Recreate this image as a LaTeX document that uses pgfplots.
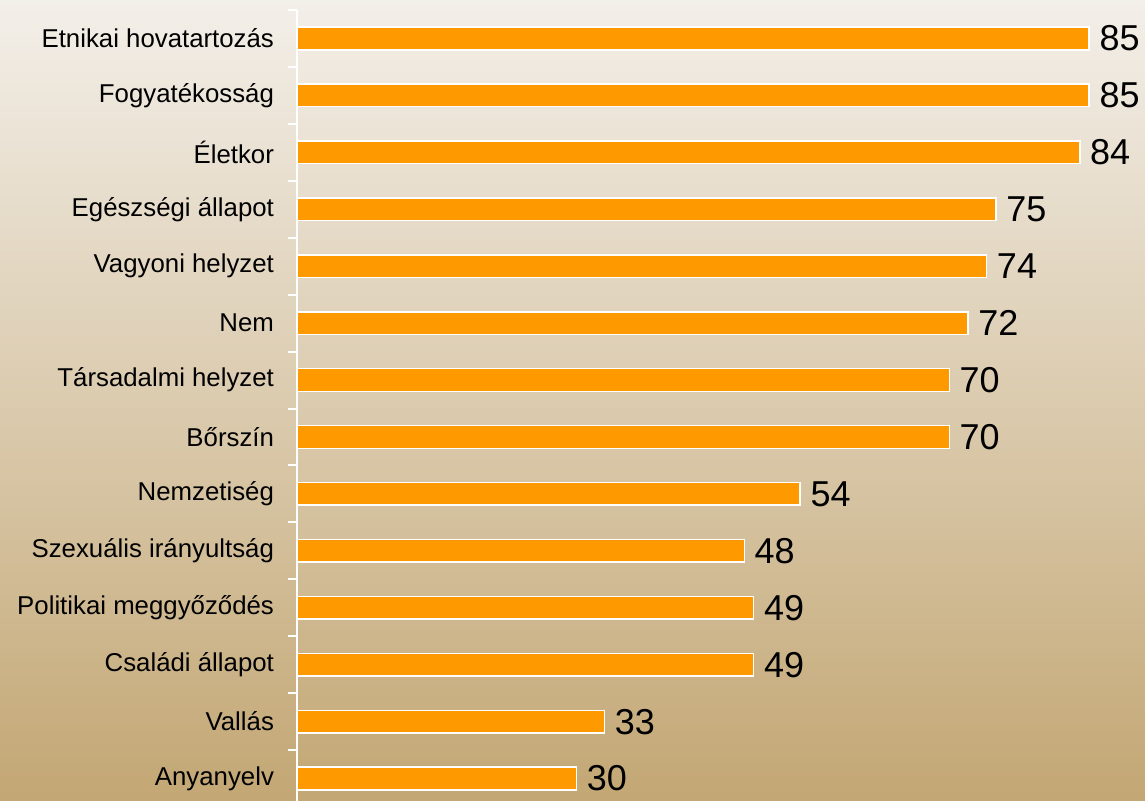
\documentclass[border=0pt]{standalone}
\usepackage{pgfplots}
\pgfplotsset{compat=1.18}
\usepackage{fontspec}
\setmainfont{Liberation Sans}
\definecolor{bgtop}{RGB}{243,239,233}
\definecolor{bgbot}{RGB}{195,167,116}
\definecolor{barorange}{RGB}{255,153,0}
\pgfplotstableread{
idx val
0 85
1 85
2 84
3 75
4 74
5 72
6 70
7 70
8 54
9 48
10 49
11 49
12 33
13 30
}\datatable
\begin{document}
\begin{tikzpicture}[x=1pt,y=1pt]
\useasboundingbox (0,0) rectangle (572.5,400.5);
\shade[top color=bgtop,bottom color=bgbot] (0,0) rectangle (572.5,400.5);
\begin{axis}[
  at={(148.5pt,-3pt)}, anchor=south west,
  scale only axis,
  width=424pt, height=398.5pt,
  xbar, bar width=11.3pt,
  xmin=0, xmax=91,
  ymin=-0.5, ymax=13.5,
  y dir=reverse,
  axis x line=none,
  axis y line*=left,
  y axis line style={white, line width=1pt},
  xtick=\empty,
  ytick={0,...,13},
  yticklabels={Etnikai hovatartozás,Fogyatékosság,Életkor,Egészségi állapot,Vagyoni helyzet,Nem,Társadalmi helyzet,Bőrszín,Nemzetiség,Szexuális irányultság,Politikai meggyőződés,Családi állapot,Vallás,Anyanyelv},
  major tick length=0pt,
  minor ytick={-0.5,0.5,...,13.5},
  minor tick length=4.5pt,
  tick align=outside,
  minor tick style={white, line width=1pt},
  yticklabel style={font=\fontsize{12.9}{14}\selectfont, text=black, xshift=-8pt},
  /pgf/number format/assume math mode=true,
  nodes near coords,
  nodes near coords style={font=\fontsize{18}{20}\selectfont, text=black, anchor=west, xshift=1.5pt},
  point meta=explicit,
  clip=false,
]
\addplot[fill=barorange, draw=white, line width=0.75pt] table[x=val, y=idx, meta=val] {\datatable};
\end{axis}
\end{tikzpicture}
\end{document}
